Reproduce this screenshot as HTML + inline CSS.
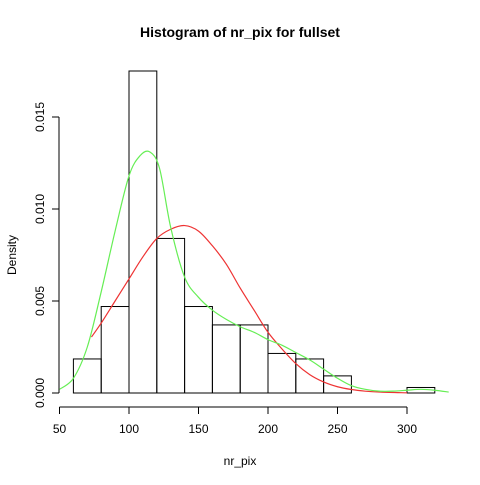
<!DOCTYPE html>
<html><head><meta charset="utf-8"><style>
body{margin:0;background:#fff;font-family:"Liberation Sans",sans-serif}
svg text{font-family:"Liberation Sans",sans-serif}
</style></head><body>
<svg id="c" width="480" height="480" xmlns="http://www.w3.org/2000/svg"></svg>
<script>
const binEdges=[60,80,100,120,140,160,180,200,220,240,260,280,300,320];
const binDensity=[0.00185,0.0047,0.0175,0.0084,0.0047,0.0037,0.0037,0.00215,0.00185,0.00093,0,0,0.0003];
const kdeX=[50,60,70,80,90,100,108,115,122,130,140,150,160,170,180,190,200,210,220,230,240,250,260,270,280,290,300,310,320,330];
const kdeY=[0.0002,0.0008,0.0025,0.0055,0.0088,0.0118,0.0129,0.0131,0.0122,0.0090,0.0063,0.0052,0.0045,0.0040,0.0036,0.0033,0.0029,0.0026,0.0022,0.0018,0.0013,0.0008,0.0004,0.0002,0.0001,0.0001,0.00015,0.0002,0.00015,0.00005];
const normX=[73,80,90,100,110,120,130,140,150,160,170,180,190,200,210,220,230,240,250,260,270,280,300];
const normY=[0.00304,0.0038,0.0050,0.0062,0.0074,0.0084,0.0089,0.0091,0.0088,0.0080,0.0070,0.0057,0.0045,0.0033,0.0024,0.0016,0.0010,0.0006,0.00034,0.00019,0.0001,0.00005,0.00001];
const xTicks=[50,100,150,200,250,300];
const yTicks=[0,0.005,0.010,0.015];
const yTickLabels=["0.000","0.005","0.010","0.015"];
const NS="http://www.w3.org/2000/svg";
const svg=document.getElementById('c');
const X=v=>59.5+(v-50)*1.39;
const Y=v=>393-v*18400;
function mk(t,a,p){const e=document.createElementNS(NS,t);for(const k in a)e.setAttribute(k,a[k]);(p||svg).appendChild(e);return e;}
let t=mk('text',{x:240,y:37,'text-anchor':'middle','font-size':14,'font-weight':'bold'});t.textContent='Histogram of nr_pix for fullset';


t=mk('text',{x:240,y:465,'text-anchor':'middle','font-size':12});t.textContent='nr_pix';


t=mk('text',{x:16,y:255,'text-anchor':'middle','font-size':12,transform:'rotate(-90 16 255)'});t.textContent='Density';


binDensity.forEach((d,i)=>{
 const r=mk('rect',{x:X(binEdges[i]),y:Y(d),width:X(binEdges[i+1])-X(binEdges[i]),height:Y(0)-Y(d),fill:'none',stroke:'#000','stroke-width':1});
 
 
});
let g=mk('g',{stroke:'#000'});


mk('line',{x1:X(xTicks[0]),x2:X(xTicks[xTicks.length-1]),y1:407,y2:407},g);
xTicks.forEach(v=>{mk('line',{x1:X(v),x2:X(v),y1:407,y2:414},g);
 const l=mk('text',{x:X(v),y:433,'text-anchor':'middle','font-size':12,stroke:'none'},g);l.textContent=v;
 
 });
g=mk('g',{stroke:'#000'});


mk('line',{x1:59,x2:59,y1:Y(0),y2:Y(0.015)},g);
yTicks.forEach((v,i)=>{mk('line',{x1:52,x2:59,y1:Y(v),y2:Y(v)},g);
 const l=mk('text',{x:44,y:Y(v),'text-anchor':'middle','font-size':12,stroke:'none',transform:`rotate(-90 44 ${Y(v)})`},g);l.textContent=yTickLabels[i];
 
 });
function line(xs,ys,col,name){
 const P=xs.map((x,i)=>[X(x),Y(ys[i])]);
 let d='M'+P[0][0]+','+P[0][1];
 for(let i=0;i<P.length-1;i++){
  const p0=P[Math.max(0,i-1)],p1=P[i],p2=P[i+1],p3=P[Math.min(P.length-1,i+2)];
  const c1=[p1[0]+(p2[0]-p0[0])/6,p1[1]+(p2[1]-p0[1])/6];
  const c2=[p2[0]-(p3[0]-p1[0])/6,p2[1]-(p3[1]-p1[1])/6];
  d+=` C${c1[0]},${c1[1]} ${c2[0]},${c2[1]} ${p2[0]},${p2[1]}`;
 }
 const p=mk('path',{d:d,fill:'none',stroke:col,'stroke-width':1.2});
 
 
}
line(normX,normY,'#ee3333','normal-curve');
line(kdeX,kdeY,'#66ee55','density-curve');
</script>
</body></html>
